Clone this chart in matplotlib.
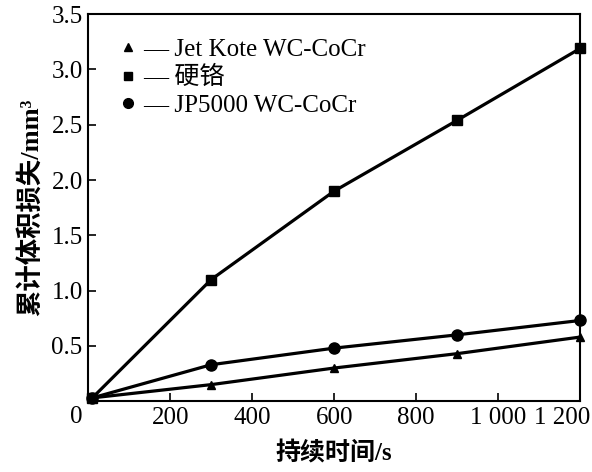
import matplotlib
matplotlib.use("Agg")
import matplotlib.pyplot as plt
from matplotlib.lines import Line2D
import matplotlib.transforms as mtransforms

time_s = [10, 300, 600, 900, 1200]
jetkote = [0.03, 0.15, 0.30, 0.43, 0.58]
chrome = [0.03, 1.10, 1.90, 2.54, 3.19]
jp5000 = [0.03, 0.33, 0.48, 0.60, 0.73]

series_labels = ["Jet Kote WC-CoCr", "硬铬", "JP5000 WC-CoCr"]
xticks = [200, 400, 600, 800, 1000, 1200]
xtick_labels = ["200", "400", "600", "800", "1 000", "1 200"]
yticks = [0.5, 1.0, 1.5, 2.0, 2.5, 3.0, 3.5]
ytick_labels = ["0.5", "1.0", "1.5", "2.0", "2.5", "3.0", "3.5"]

serif = ["Liberation Serif", "Noto Sans CJK SC", "DejaVu Sans"]

fig = plt.figure(figsize=(5.92, 4.72), dpi=100)
ax = fig.add_axes([0.149, 0.150, 0.831, 0.820])

lw = 2.3
ax.plot(time_s, jetkote, color="black", lw=lw, marker="^", ms=6, clip_on=False, zorder=3)
ax.plot(time_s, chrome, color="black", lw=lw, marker="s", ms=7, clip_on=False, zorder=3)
ax.plot(time_s, jp5000, color="black", lw=lw, marker="o", ms=8, clip_on=False, zorder=3)

ax.set_xlim(0, 1200)
ax.set_ylim(0, 3.5)
ax.set_xticks(xticks)
ax.set_xticklabels(xtick_labels, fontfamily=serif, fontsize=18)
ax.set_yticks(yticks)
ax.set_yticklabels(ytick_labels, fontfamily=serif, fontsize=18)
ax.tick_params(direction="in", length=6, width=1.2, top=False, right=False, pad=4)
for s in ax.spines.values():
    s.set_linewidth(1.5)

# shift last x tick label left so it fits inside the figure
last = ax.get_xticklabels()[-1]
last.set_transform(last.get_transform() + mtransforms.ScaledTranslation(-18 / 100, 0, fig.dpi_scale_trans))

ax.text(-0.012, -0.012, "0", transform=ax.transAxes, ha="right", va="top",
        fontfamily=serif, fontsize=18)

ax.set_xlabel("持续时间/s", fontfamily=serif, fontsize=18, fontweight="bold", labelpad=9)
ax.set_ylabel("累计体积损失/mm³", fontfamily=serif, fontsize=19, fontweight="bold", labelpad=6)

handles = [
    Line2D([], [], color="black", marker="^", ls="none", ms=6),
    Line2D([], [], color="black", marker="s", ls="none", ms=6),
    Line2D([], [], color="black", marker="o", ls="none", ms=7),
]
labels = ["— " + l for l in series_labels]
leg = ax.legend(handles, labels, loc="upper left", bbox_to_anchor=(0.02, 0.995),
                frameon=False, handlelength=0.6, handletextpad=0.3, labelspacing=0.2,
                prop={"family": serif, "size": 18})

fig.savefig("out.png", dpi=100)
